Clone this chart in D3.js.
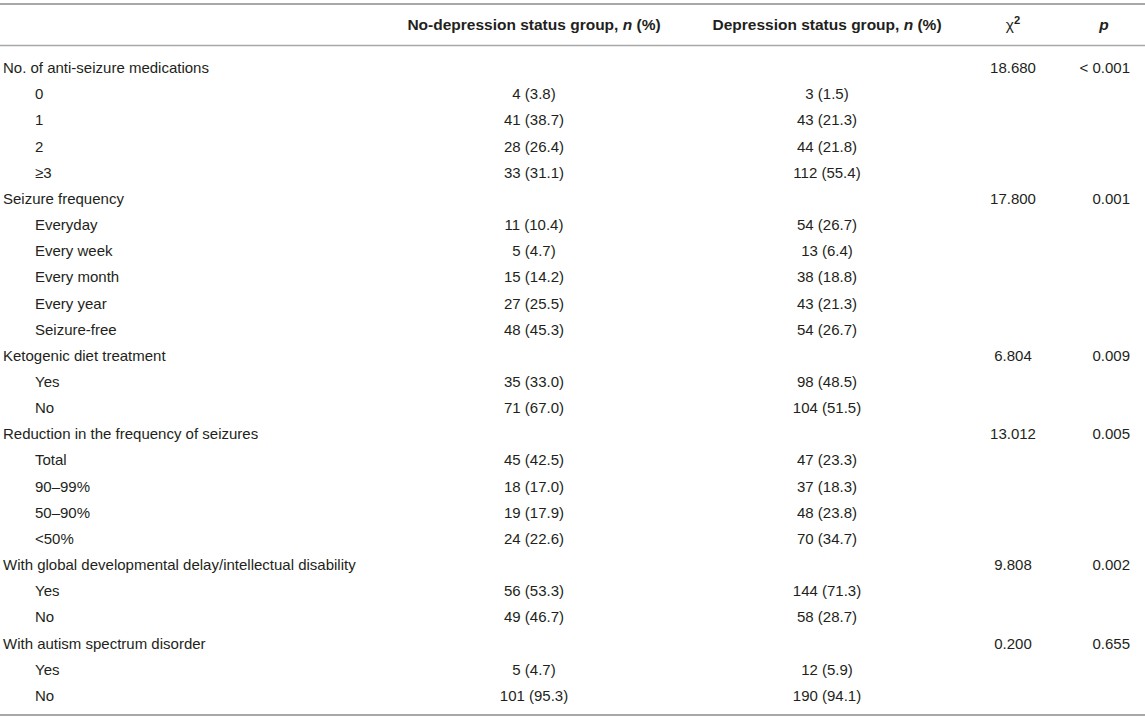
<!DOCTYPE html>
<html><head><meta charset="utf-8">
<script src="https://cdn.jsdelivr.net/npm/d3@7"></script>
<style>
html,body{margin:0;padding:0;background:#fff;}
text{font-family:"Liberation Sans",Arial,Helvetica,sans-serif;}
</style></head>
<body><svg id="chart" width="1145" height="727"></svg>
<script>
const columnHeaders = ["", "No-depression status group, ", "Depression status group, ", "χ", "p"];
const rowLabels = [
 "No. of anti-seizure medications","0","1","2","≥3",
 "Seizure frequency","Everyday","Every week","Every month","Every year","Seizure-free",
 "Ketogenic diet treatment","Yes","No",
 "Reduction in the frequency of seizures","Total","90–99%","50–90%","<50%",
 "With global developmental delay/intellectual disability","Yes","No",
 "With autism spectrum disorder","Yes","No"];
const rowLevels = [0,1,1,1,1, 0,1,1,1,1,1, 0,1,1, 0,1,1,1,1, 0,1,1, 0,1,1];
const noDepN   = [null,4,41,28,33, null,11,5,15,27,48, null,35,71, null,45,18,19,24, null,56,49, null,5,101];
const noDepPct = [null,"3.8","38.7","26.4","31.1", null,"10.4","4.7","14.2","25.5","45.3", null,"33.0","67.0", null,"42.5","17.0","17.9","22.6", null,"53.3","46.7", null,"4.7","95.3"];
const depN     = [null,3,43,44,112, null,54,13,38,43,54, null,98,104, null,47,37,48,70, null,144,58, null,12,190];
const depPct   = [null,"1.5","21.3","21.8","55.4", null,"26.7","6.4","18.8","21.3","26.7", null,"48.5","51.5", null,"23.3","18.3","23.8","34.7", null,"71.3","28.7", null,"5.9","94.1"];
const chiValues = ["18.680",null,null,null,null, "17.800",null,null,null,null,null, "6.804",null,null, "13.012",null,null,null,null, "9.808",null,null, "0.200",null,null];
const pValues   = ["< 0.001",null,null,null,null, "0.001",null,null,null,null,null, "0.009",null,null, "0.005",null,null,null,null, "0.002",null,null, "0.655",null,null];

const W = 1145, H = 727;
const svg = d3.select("#chart");
const fs = 15;
const hfs = 15.5;
const textColor = "#231f20";
const lineColor = "#a8a8a8";

const colX = d3.scaleOrdinal().domain(["label","noDep","dep","chi","p","pRight"]).range([3, 534, 827, 1013, 1104, 1130]);
const y = d3.scaleBand().domain(d3.range(rowLabels.length)).range([55, 709]).paddingInner(0);

// rules
svg.append("line").attr("x1",0).attr("x2",W).attr("y1",4).attr("y2",4).attr("stroke",lineColor).attr("stroke-width",2);
svg.append("line").attr("x1",0).attr("x2",W).attr("y1",45.5).attr("y2",45.5).attr("stroke",lineColor).attr("stroke-width",1.5);
svg.append("line").attr("x1",0).attr("x2",W).attr("y1",715).attr("y2",715).attr("stroke",lineColor).attr("stroke-width",2);

// header
const hy = 30;
const hdr = svg.append("g").attr("font-weight","bold").attr("font-size",hfs).attr("fill",textColor);
function groupHeader(key, txt){
  const t = hdr.append("text").attr("x",colX(key)).attr("y",hy).attr("text-anchor","middle");
  t.append("tspan").text(txt);
  t.append("tspan").attr("font-style","italic").text("n");
  t.append("tspan").text(" (%)");
}
groupHeader("noDep", columnHeaders[1]);
groupHeader("dep", columnHeaders[2]);
const chiT = hdr.append("text").attr("x",colX("chi")).attr("y",hy).attr("text-anchor","middle").attr("font-weight","normal");
chiT.append("tspan").text(columnHeaders[3]);
chiT.append("tspan").attr("font-size",hfs*0.72).attr("dy",-6).attr("font-weight","bold").text("2");
hdr.append("text").attr("x",colX("p")).attr("y",hy).attr("text-anchor","middle").attr("font-style","italic").text(columnHeaders[4]);

// body
const body = svg.append("g").attr("font-size",fs).attr("fill",textColor);
const rows = body.selectAll("g.row").data(rowLabels.map((l,i)=>i)).join("g")
  .attr("class","row").attr("transform", i => `translate(0,${y(i)+y.bandwidth()/2+5})`);
rows.append("text").attr("x", i => colX("label") + (rowLevels[i] ? 32 : 0)).text(i => rowLabels[i]);
rows.filter(i => noDepN[i] !== null).append("text").attr("x",colX("noDep")).attr("text-anchor","middle")
  .text(i => `${noDepN[i]} (${noDepPct[i]})`);
rows.filter(i => depN[i] !== null).append("text").attr("x",colX("dep")).attr("text-anchor","middle")
  .text(i => `${depN[i]} (${depPct[i]})`);
rows.filter(i => chiValues[i] !== null).append("text").attr("x",colX("chi")).attr("text-anchor","middle").text(i => chiValues[i]);
rows.filter(i => pValues[i] !== null).append("text").attr("x",colX("pRight")).attr("text-anchor","end").text(i => pValues[i]);
</script></body></html>
